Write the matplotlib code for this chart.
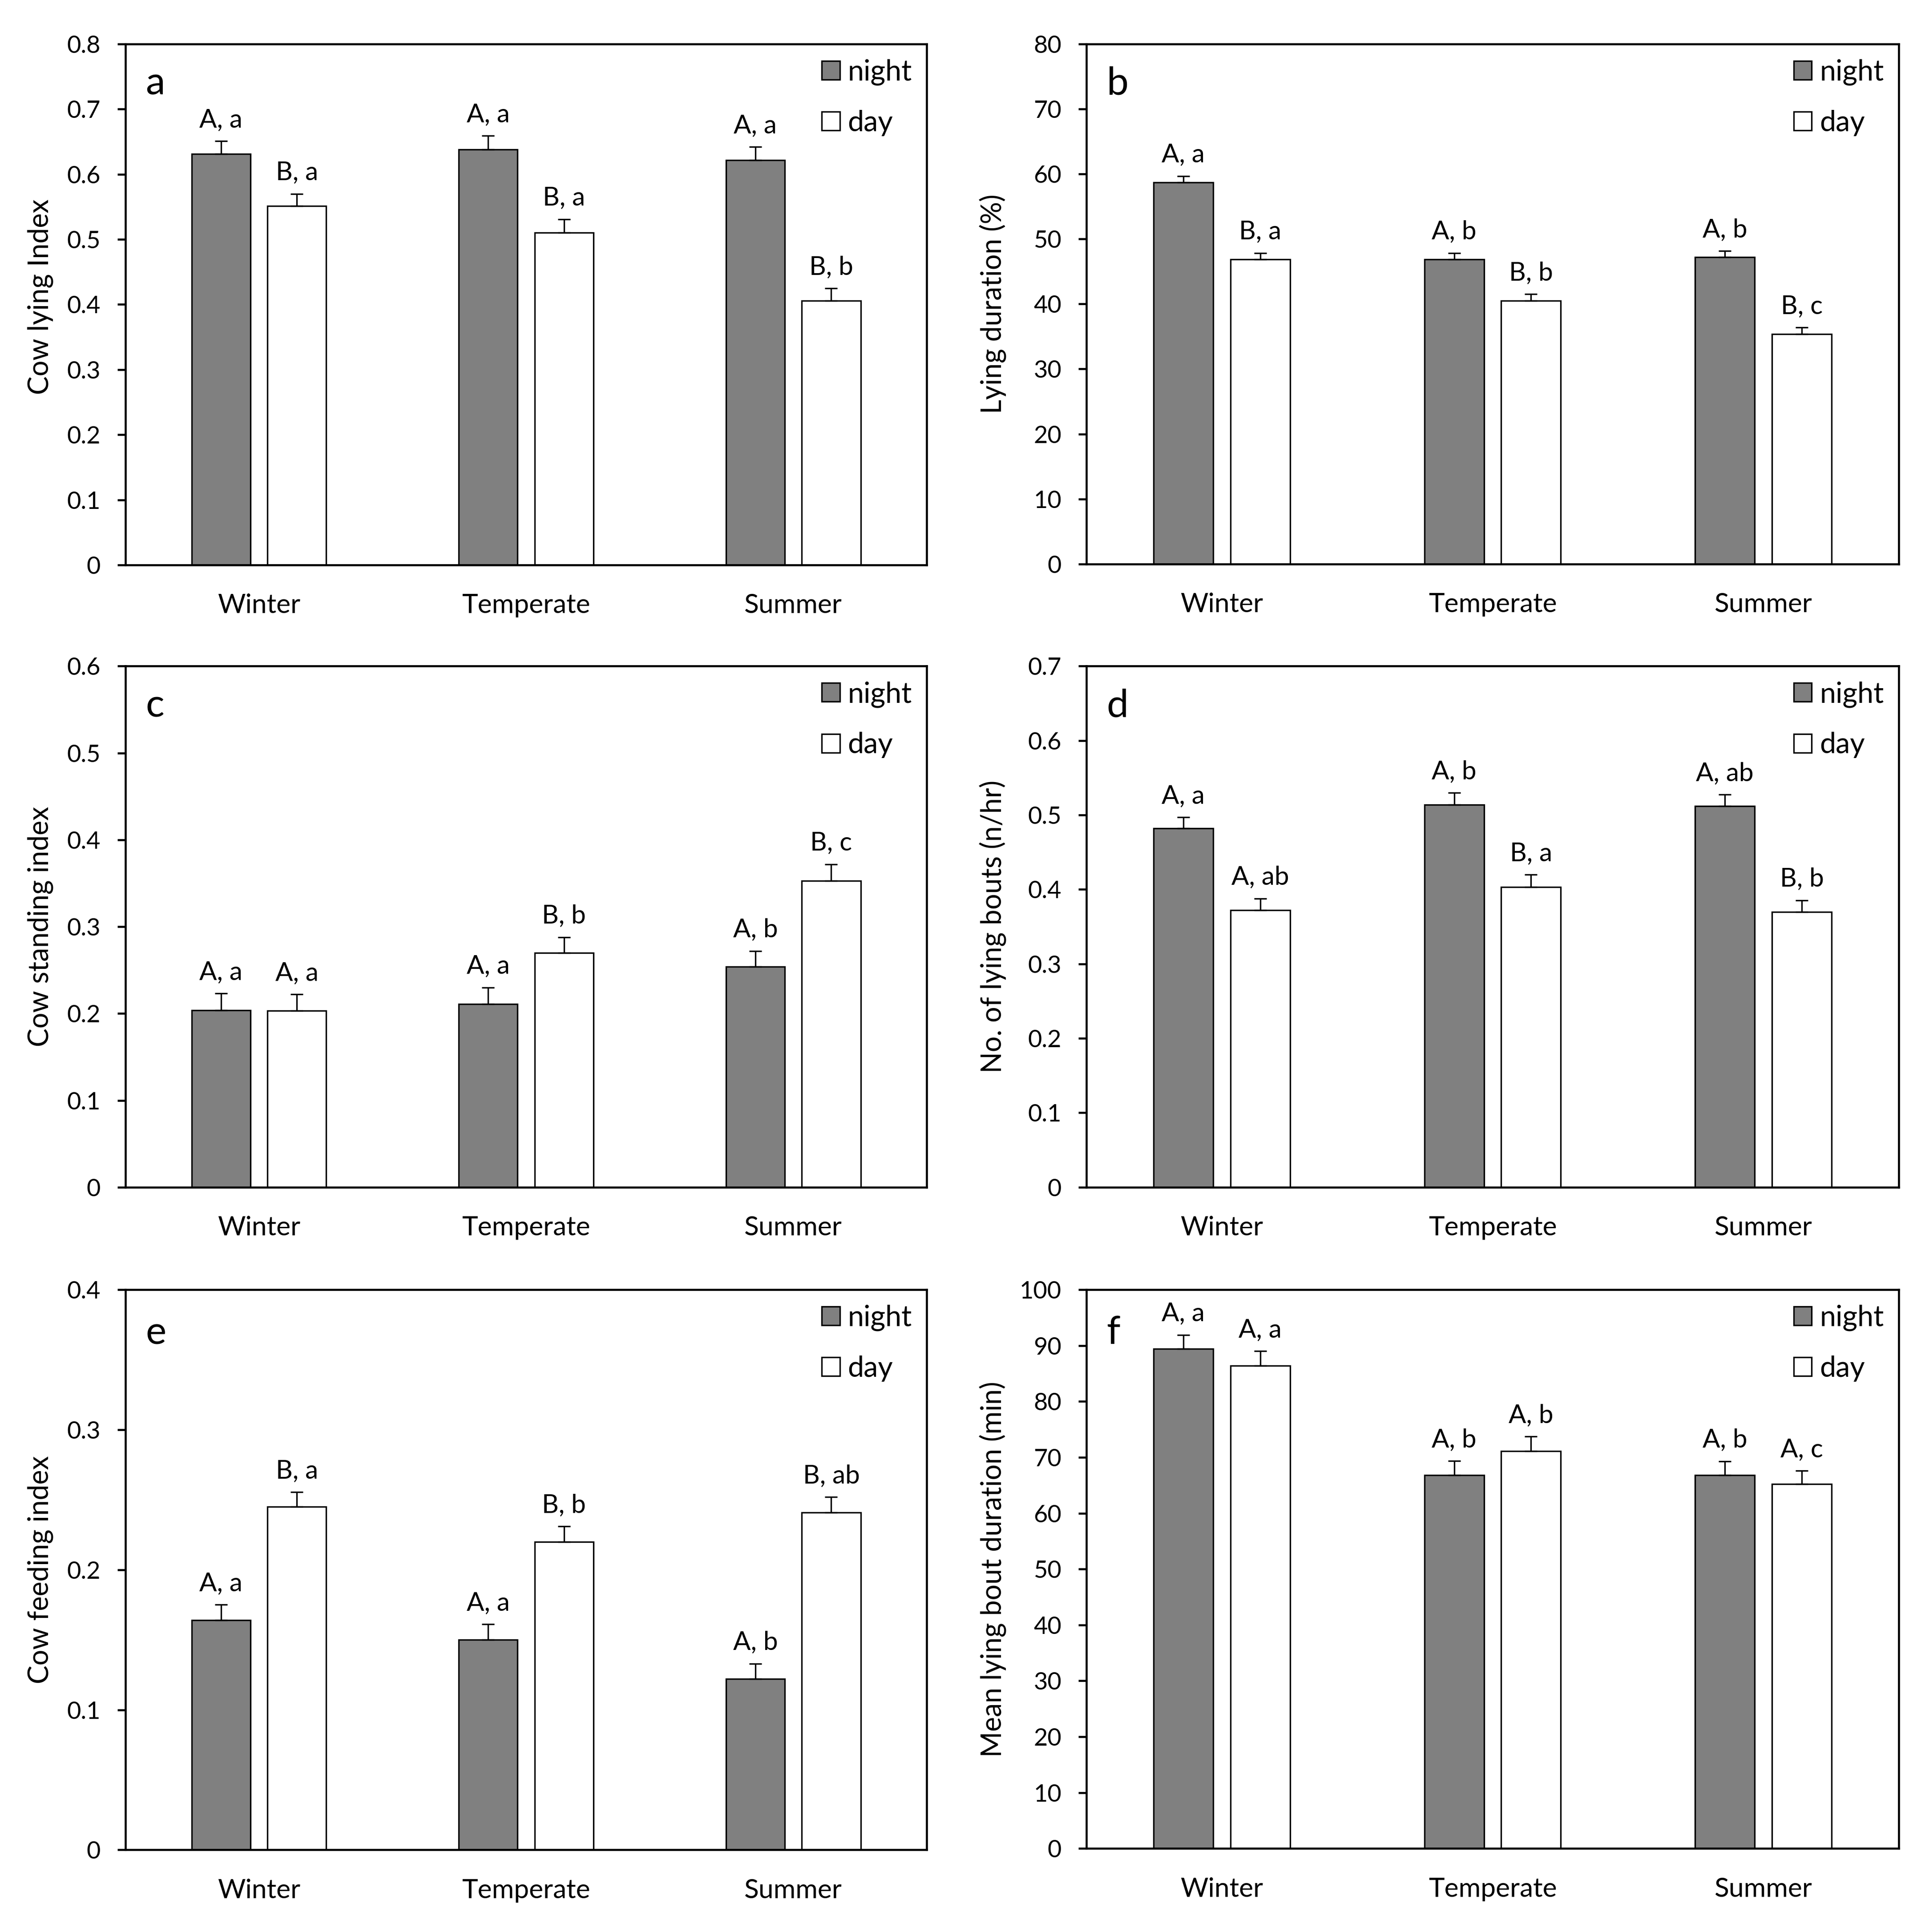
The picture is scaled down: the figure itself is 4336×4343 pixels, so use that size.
import matplotlib
matplotlib.use("Agg")
import matplotlib.pyplot as plt
import numpy as np
from matplotlib.ticker import MultipleLocator, FuncFormatter
from matplotlib.patches import Patch

plt.rcParams['font.family'] = ['Lato', 'DejaVu Sans']

categories = ['Winter', 'Temperate', 'Summer']

# Panel a: Cow lying index
a_night = [0.631, 0.638, 0.622]
a_night_err = [0.020, 0.021, 0.020]
a_day = [0.551, 0.510, 0.406]
a_day_err = [0.019, 0.021, 0.019]
a_night_lbl = ['A, a', 'A, a', 'A, a']
a_day_lbl = ['B, a', 'B, a', 'B, b']

# Panel b: Lying duration (%)
b_night = [58.7, 46.9, 47.2]
b_night_err = [1.0, 0.95, 0.95]
b_day = [46.9, 40.5, 35.4]
b_day_err = [0.95, 1.0, 1.0]
b_night_lbl = ['A, a', 'A, b', 'A, b']
b_day_lbl = ['B, a', 'B, b', 'B, c']

# Panel c: Cow standing index
c_night = [0.204, 0.211, 0.254]
c_night_err = [0.019, 0.019, 0.018]
c_day = [0.203, 0.270, 0.353]
c_day_err = [0.019, 0.018, 0.019]
c_night_lbl = ['A, a', 'A, a', 'A, b']
c_day_lbl = ['A, a', 'B, b', 'B, c']

# Panel d: No. of lying bouts (n/hr)
d_night = [0.482, 0.514, 0.512]
d_night_err = [0.015, 0.016, 0.0155]
d_day = [0.372, 0.403, 0.370]
d_day_err = [0.016, 0.017, 0.0155]
d_night_lbl = ['A, a', 'A, b', 'A, ab']
d_day_lbl = ['A, ab', 'B, a', 'B, b']

# Panel e: Cow feeding index
e_night = [0.164, 0.150, 0.122]
e_night_err = [0.011, 0.011, 0.011]
e_day = [0.245, 0.220, 0.241]
e_day_err = [0.0105, 0.011, 0.011]
e_night_lbl = ['A, a', 'A, a', 'A, b']
e_day_lbl = ['B, a', 'B, b', 'B, ab']

# Panel f: Mean lying bout duration (min)
f_night = [89.4, 66.8, 66.8]
f_night_err = [2.5, 2.55, 2.5]
f_day = [86.4, 71.1, 65.2]
f_day_err = [2.6, 2.6, 2.4]
f_night_lbl = ['A, a', 'A, b', 'A, b']
f_day_lbl = ['A, a', 'A, b', 'A, c']

series_labels = ['night', 'day']

panels = [
    ('a', 'Cow lying Index', 0.8, 0.1, a_night, a_night_err, a_day, a_day_err, a_night_lbl, a_day_lbl),
    ('b', 'Lying duration (%)', 80, 10, b_night, b_night_err, b_day, b_day_err, b_night_lbl, b_day_lbl),
    ('c', 'Cow standing index', 0.6, 0.1, c_night, c_night_err, c_day, c_day_err, c_night_lbl, c_day_lbl),
    ('d', 'No. of lying bouts (n/hr)', 0.7, 0.1, d_night, d_night_err, d_day, d_day_err, d_night_lbl, d_day_lbl),
    ('e', 'Cow feeding index', 0.4, 0.1, e_night, e_night_err, e_day, e_day_err, e_night_lbl, e_day_lbl),
    ('f', 'Mean lying bout duration (min)', 100, 10, f_night, f_night_err, f_day, f_day_err, f_night_lbl, f_day_lbl),
]

# axes rectangles (left, bottom, width, height) in figure fraction
rects = [
    (0.0650, 0.7076, 0.4155, 0.2696),
    (0.5632, 0.7081, 0.4211, 0.2691),
    (0.0650, 0.3855, 0.4155, 0.2697),
    (0.5632, 0.3855, 0.4211, 0.2697),
    (0.0650, 0.0425, 0.4155, 0.2900),
    (0.5632, 0.0432, 0.4211, 0.2893),
]
ylabel_x = [-0.090, -0.098, -0.090, -0.098, -0.090, -0.098]
ylabel_y = [0.515, 0.5, 0.5, 0.5, 0.5, 0.5]

fig = plt.figure(figsize=(4336 / 300, 4343 / 300), dpi=300)

NIGHT = '#808080'
DAY = '#ffffff'
width = 0.22
off = 0.142
x = np.arange(len(categories))

for (letter, ylab, ymax, step, nv, ne, dv, de, nl, dl), rect, lx, ly in zip(panels, rects, ylabel_x, ylabel_y):
    ax = fig.add_axes(rect)
    ax.bar(x - off, nv, width, color=NIGHT, edgecolor='black', linewidth=0.8, zorder=2)
    ax.bar(x + off, dv, width, color=DAY, edgecolor='black', linewidth=0.8, zorder=2)
    ax.errorbar(x - off, nv, yerr=[np.zeros(len(nv)), ne], fmt='none', ecolor='black',
                elinewidth=0.8, capsize=3.3, capthick=0.8, zorder=3)
    ax.errorbar(x + off, dv, yerr=[np.zeros(len(dv)), de], fmt='none', ecolor='black',
                elinewidth=0.8, capsize=3.3, capthick=0.8, zorder=3)
    for xi, v, e, t in zip(x - off, nv, ne, nl):
        ax.annotate(t, (xi, v + e), xytext=(0, 7.5), textcoords='offset points',
                    ha='center', va='baseline', fontsize=14)
    for xi, v, e, t in zip(x + off, dv, de, dl):
        ax.annotate(t, (xi, v + e), xytext=(0, 7.5), textcoords='offset points',
                    ha='center', va='baseline', fontsize=14)

    ax.set_xlim(-0.5, 2.5)
    ax.set_ylim(0, ymax)
    ax.yaxis.set_major_locator(MultipleLocator(step))
    ax.yaxis.set_major_formatter(FuncFormatter(lambda v, p: '{:g}'.format(round(v, 6))))
    ax.set_xticks(x)
    ax.set_xticklabels(categories, fontsize=14.5)
    ax.tick_params(axis='x', length=0, pad=15.5)
    ax.tick_params(axis='y', direction='out', length=4.4, width=1.1, pad=9, labelsize=13)
    for sp in ax.spines.values():
        sp.set_linewidth(1.1)
        sp.set_color('black')
    ax.set_ylabel(ylab, fontsize=15)
    ax.yaxis.set_label_coords(lx, ly)

    ax.text(0.025, 0.903, letter, transform=ax.transAxes, fontsize=21, ha='left', va='baseline')

    handles = [Patch(facecolor=NIGHT, edgecolor='black', linewidth=0.8),
               Patch(facecolor=DAY, edgecolor='black', linewidth=0.8)]
    ax.legend(handles, series_labels, loc='upper right', bbox_to_anchor=(1.0, 1.0),
              frameon=False, fontsize=15.5, handlelength=0.62, handleheight=0.62,
              handletextpad=0.28, labelspacing=0.85, borderaxespad=0.12, borderpad=0.4)

fig.savefig('out.png', dpi=300, facecolor='white')
